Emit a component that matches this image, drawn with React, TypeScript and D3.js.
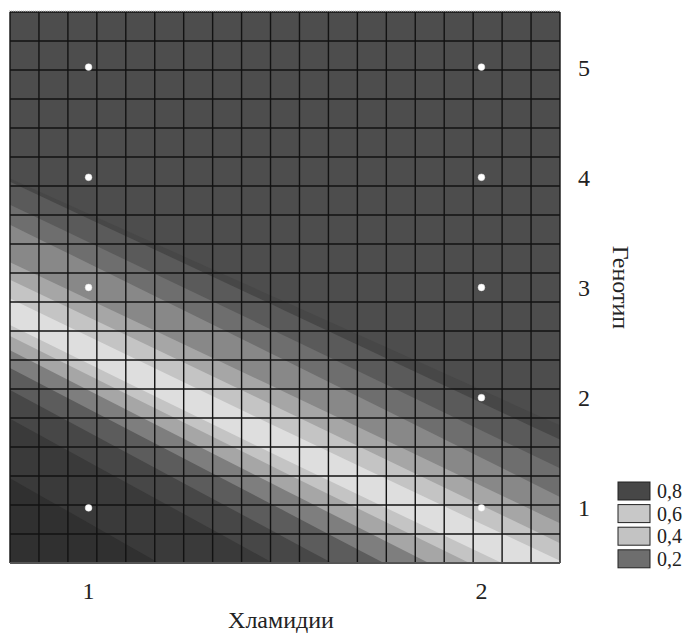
import React from "react";
import * as d3 from "d3";

// axis ticks
const xTicks = [1, 2];
const yTicks = [1, 2, 3, 4, 5];

// observed points (Хламидии, Генотип)
const pointX = [1, 1, 1, 1, 2, 2, 2, 2, 2];
const pointY = [1, 3, 4, 5, 1, 2, 3, 4, 5];

// contour band boundaries, Генотип value at Хламидии = 0.8, 1.5, 2.2
const edgeX = [0.8, 1.5, 2.2];
const boundaries = [
    [3.99, 2.87, 1.75],
    [3.96, 2.79, 1.62],
    [3.75, 2.56, 1.36],
    [3.57, 2.34, 1.10],
    [3.23, 2.05, 0.86],
    [3.07, 1.88, 0.68],
    [2.90, 1.70, 0.52],
    [2.66, 1.44, 0.25],
    [2.56, 1.32, 0.10],
    [2.43, 1.16, -0.10],
    [2.27, 0.97, -0.34],
    [2.07, 0.73, -0.61],
    [1.81, 0.44, -0.94],
    [1.27, -0.15, -1.56],
];
// fill above first boundary, then below each boundary
const bandColors = [
    "#4d4d4d", "#474747", "#5a5a5a", "#6e6e6e", "#888888", "#a6a6a6", "#c4c4c4", "#dedede",
    "#c4c4c4", "#a6a6a6", "#7e7e7e", "#5c5c5c", "#474747", "#3a3a3a", "#303030",
];

const legendLabels = ["0,8", "0,6", "0,4", "0,2"];
const legendColors = ["#474747", "#c8c8c8", "#c3c3c3", "#6e6e6e"];

const W = 693;
const H = 633;
const left = 10, right = 560, top = 12, bottom = 563;
const gridCells = 19;
const font = "'Liberation Serif', 'DejaVu Serif', serif";

export default function App() {
    const x = d3.scaleLinear().domain([0.8, 2.2]).range([left, right]);
    const y = d3.scaleLinear().domain([0.5, 5.5]).range([bottom, top]);

    const area = d3
        .area<number[]>()
        .x(d => x(d[0]))
        .y0(bottom + 40)
        .y1(d => y(d[1]))
        .curve(d3.curveMonotoneX);

    const [x0, x1] = x.domain();
    const [y0, y1] = y.domain();
    const xGrid = d3.range(gridCells + 1).map(i => x0 + (i * (x1 - x0)) / gridCells);
    const yGrid = d3.range(gridCells + 1).map(i => y0 + (i * (y1 - y0)) / gridCells);

    return (
        <div style={{ position: "absolute", left: 0, top: 0 }}>
            <svg width={W} height={H} style={{ display: "block", background: "#fff" }}>
                <defs>
                    <clipPath id="plotClip">
                        <rect x={left} y={top} width={right - left} height={bottom - top} />
                    </clipPath>
                </defs>

                {/* contour bands */}
                <g clipPath="url(#plotClip)">
                    <rect x={left} y={top} width={right - left} height={bottom - top} fill={bandColors[0]} />
                    {boundaries.map((b, i) => (
                        <path
                            key={i}
                            d={area(edgeX.map((xv, j) => [xv, b[j]])) || ""}
                            fill={bandColors[i + 1]}
                        />
                    ))}
                </g>

                {/* grid */}
                <g stroke="#121212" strokeWidth={1.4}>
                    {xGrid.map((v, i) => (
                        <line key={"gx" + i} x1={x(v)} x2={x(v)} y1={top} y2={bottom} />
                    ))}
                    {yGrid.map((v, i) => (
                        <line key={"gy" + i} x1={left} x2={right} y1={y(v)} y2={y(v)} />
                    ))}
                </g>
                <line x1={left} x2={right} y1={bottom} y2={bottom} stroke="#555" strokeWidth={2} />
                <line x1={left - 1} x2={right} y1={top - 1} y2={top - 1} stroke="#bbb" strokeDasharray="1,1" />

                {/* points */}
                <g>
                    {pointX.map((px, i) => (
                        <circle key={i} cx={x(px)} cy={y(pointY[i])} r={3.4} fill="#fff" stroke="#ddd" strokeWidth={0.5} />
                    ))}
                </g>

                {/* x axis labels */}
                <g fontFamily={font} fontSize={24} fill="#222" textAnchor="middle">
                    {xTicks.map(t => (
                        <text key={t} x={x(t)} y={599}>{t}</text>
                    ))}
                    <text x={(x(1) + x(2)) / 2 - 4} y={628}>Хламидии</text>
                </g>

                {/* y axis labels */}
                <g fontFamily={font} fontSize={24} fill="#222" textAnchor="middle">
                    {yTicks.map(t => (
                        <text key={t} x={584} y={y(t)} dy="0.35em">{t}</text>
                    ))}
                    <text transform={`translate(621, ${y(3)}) rotate(90)`} dy="0.35em">Генотип</text>
                </g>

                {/* legend */}
                <g fontFamily={font} fontSize={20} fill="#222">
                    {legendLabels.map((l, i) => (
                        <g key={l} transform={`translate(618, ${482 + i * 22.6})`}>
                            <rect width={32} height={18} fill={legendColors[i]} stroke="#222" strokeWidth={1} />
                            <text x={39} y={16}>{l}</text>
                        </g>
                    ))}
                </g>
            </svg>
        </div>
    );
}
